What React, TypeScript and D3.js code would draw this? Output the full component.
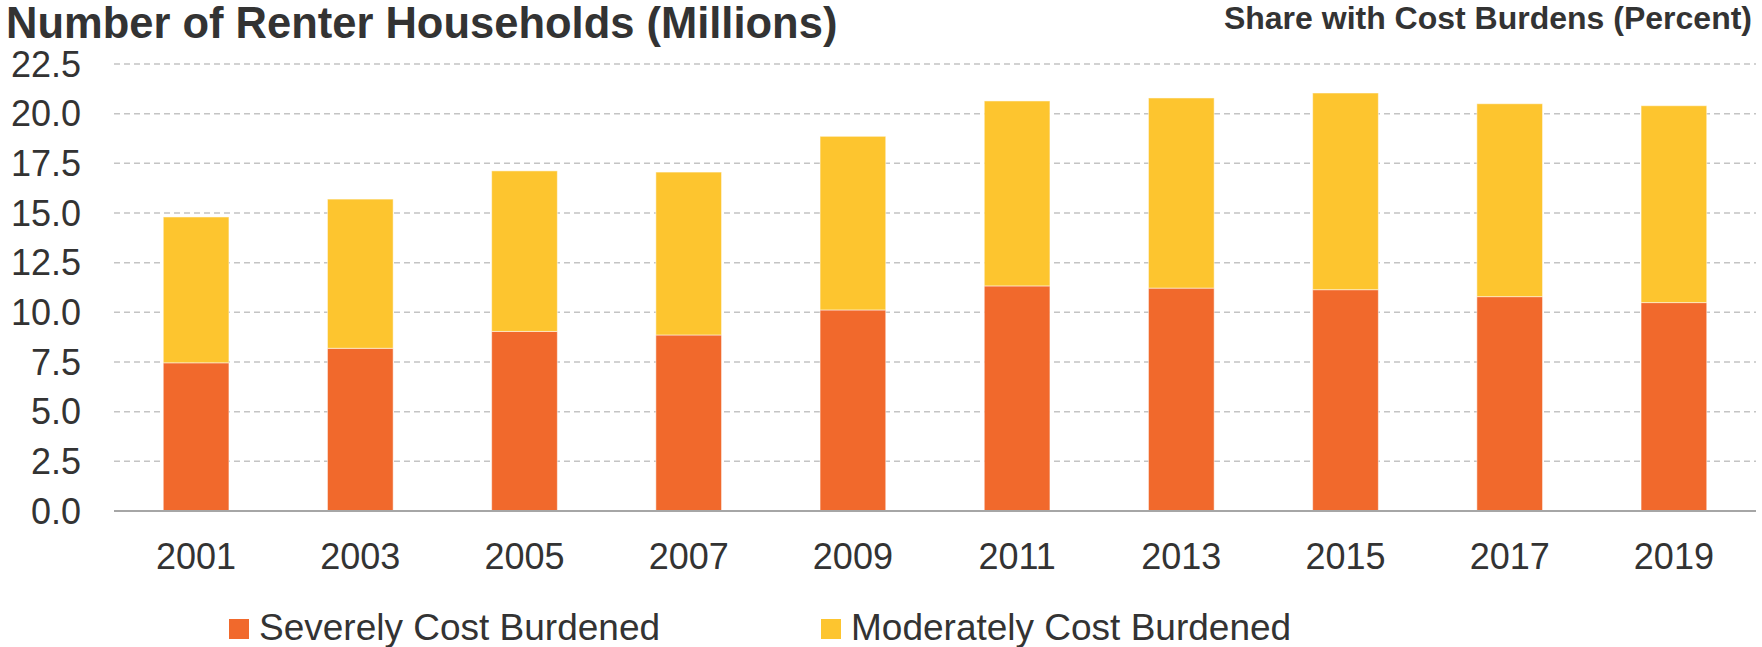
import React from "react";
import * as d3 from "d3";

const years = ["2001", "2003", "2005", "2007", "2009", "2011", "2013", "2015", "2017", "2019"];
const severe = [7.46, 8.19, 9.04, 8.86, 10.12, 11.33, 11.22, 11.14, 10.79, 10.49];
const moderate = [7.34, 7.51, 8.08, 8.2, 8.74, 9.31, 9.57, 9.9, 9.71, 9.91];
const yTicks = [0, 2.5, 5, 7.5, 10, 12.5, 15, 17.5, 20, 22.5];
const seriesNames = ["Severely Cost Burdened", "Moderately Cost Burdened"];
const colors = ["#F1692C", "#FDC52F"];

const W = 1762;
const H = 647;
const FONT = "'Liberation Sans', Arial, Helvetica, sans-serif";

export default function App() {
  const x = d3.scaleBand<string>().domain(years).range([114, 1756]).paddingInner(0.6).paddingOuter(0.3);
  const y = d3.scaleLinear().domain([0, 22.5]).range([511, 64]);

  const rows = years.map((yr, i) => ({ year: yr, severe: severe[i], moderate: moderate[i] }));
  const stack = d3.stack<any>().keys(["severe", "moderate"])(rows);

  const legendX = [229, 821];

  return (
    <div style={{ position: "fixed", left: 0, top: 0 }}>
      <svg width={W} height={H} style={{ display: "block", background: "#fff" }} fontFamily={FONT}>
        <text x={6} y={38} fontSize={43.5} fontWeight="bold" fill="#333">
          Number of Renter Households (Millions)
        </text>
        <text x={1752} y={29} fontSize={32} fontWeight="bold" fill="#333" textAnchor="end">
          Share with Cost Burdens (Percent)
        </text>

        {yTicks.map((t) =>
          t === 0 ? null : (
            <line key={"g" + t} x1={114} x2={1756} y1={y(t)} y2={y(t)} stroke="#c4c4c4" strokeWidth={1.5} strokeDasharray="6,4" />
          )
        )}
        {yTicks.map((t) => (
          <text key={"t" + t} x={81} y={y(t) + 12.5} fontSize={36} fill="#333" textAnchor="end">
            {d3.format(".1f")(t)}
          </text>
        ))}

        {stack.map((s, si) => (
          <g key={si} fill={colors[si]}>
            {s.map((d: any, i: number) => (
              <rect
                key={i}
                x={x(years[i])!}
                width={x.bandwidth()}
                y={y(d[1])}
                height={y(d[0]) - y(d[1])}
                stroke="#fff"
                strokeOpacity={0.5}
                strokeWidth={1}
              />
            ))}
          </g>
        ))}

        <line x1={114} x2={1756} y1={y(0)} y2={y(0)} stroke="#a6a6a6" strokeWidth={2} />

        {years.map((yr) => (
          <text key={yr} x={x(yr)! + x.bandwidth() / 2} y={569} fontSize={36} fill="#333" textAnchor="middle">
            {yr}
          </text>
        ))}

        {seriesNames.map((n, i) => (
          <g key={n}>
            <rect x={legendX[i]} y={619} width={20} height={20} fill={colors[i]} />
            <text x={legendX[i] + 30} y={640} fontSize={37} fill="#333">
              {n}
            </text>
          </g>
        ))}
      </svg>
    </div>
  );
}
